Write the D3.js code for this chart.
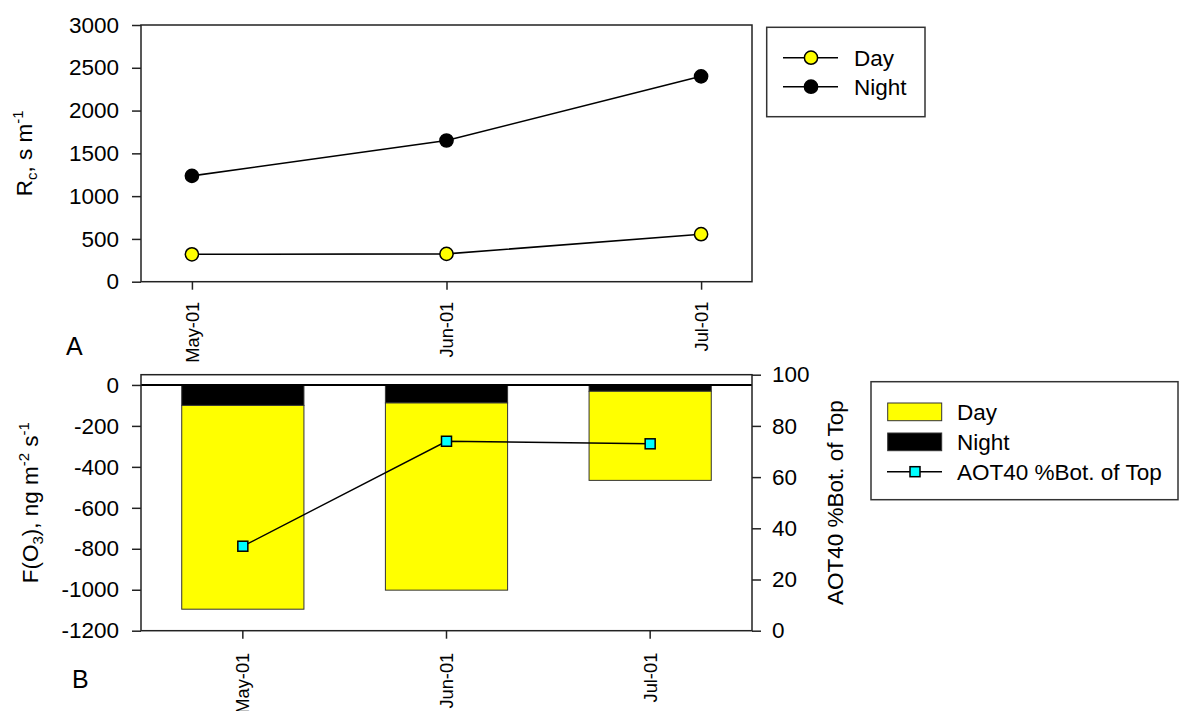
<!DOCTYPE html>
<html><head><meta charset="utf-8">
<script src="https://cdn.jsdelivr.net/npm/d3@7"></script>
<style>body{margin:0;background:#fff} text{font-family:"Liberation Sans",Arial,sans-serif}</style>
</head><body><svg id="c" width="1188" height="711"></svg>
<script>
// ---- data ----
const months = ["May-01", "Jun-01", "Jul-01"];
const rcDay = [320, 325, 555];
const rcNight = [1237, 1650, 2400];
const rcTicks = [0, 500, 1000, 1500, 2000, 2500, 3000];
const fluxNight = [-100, -88, -31];
const fluxDay = [-995, -914, -435];
const aot40 = [33, 74, 73];
const fluxTicks = [0, -200, -400, -600, -800, -1000, -1200];
const aotTicks = [0, 20, 40, 60, 80, 100];

const svg = d3.select("#c");
const L = 141, R = 752;
const T1 = 25, B1 = 281.7, T2 = 374.7, B2 = 630.7;
const FS = 22.5, XFS = 18.3;
const AX = "#222";
const fmt = d => String(d);

function styleAxis(g, fs) {
  g.selectAll("path.domain").remove();
  g.selectAll("line").attr("stroke", AX).attr("stroke-width", 1.5);
  g.selectAll("text").attr("font-size", fs || FS).attr("fill", "#000")
    .attr("font-family", '"Liberation Sans",Arial,sans-serif');
}
function rotLabels(g, off) {
  g.selectAll("text").attr("transform", "rotate(-90)")
    .attr("x", -off).attr("y", 0).attr("dy", "0.35em").attr("text-anchor", "end");
}

// ---- Top chart ----
const x1 = d3.scalePoint().domain(months).range([L, R]).padding(0.2);
const y1 = d3.scaleLinear().domain([0, 3000]).range([B1, T1]);

const gy1 = svg.append("g").attr("transform", `translate(${L},0)`)
  .call(d3.axisLeft(y1).tickValues(rcTicks).tickFormat(fmt).tickSize(9).tickPadding(13));
styleAxis(gy1);
const gx1 = svg.append("g").attr("transform", `translate(0,${B1})`)
  .call(d3.axisBottom(x1).tickSize(8));
styleAxis(gx1, XFS); rotLabels(gx1, 20);

const line1 = d3.line().x((d, i) => x1(months[i])).y(d => y1(d));
[[rcNight, "#000"], [rcDay, "#ffff00"]].forEach(([arr, col]) => {
  svg.append("path").attr("d", line1(arr)).attr("fill", "none")
    .attr("stroke", "#000").attr("stroke-width", 1.6);
  svg.selectAll(null).data(arr).enter().append("circle")
    .attr("cx", (d, i) => x1(months[i])).attr("cy", d => y1(d)).attr("r", 6.6)
    .attr("fill", col).attr("stroke", "#000").attr("stroke-width", 1.5);
});
svg.append("rect").attr("x", L).attr("y", T1).attr("width", R - L).attr("height", B1 - T1)
  .attr("fill", "none").attr("stroke", AX).attr("stroke-width", 1.5);

// top title
const t1 = svg.append("text").attr("transform", `translate(32,${(T1 + B1) / 2}) rotate(-90)`)
  .attr("text-anchor", "middle").attr("font-size", FS);
t1.append("tspan").text("R");
t1.append("tspan").text("c").attr("font-size", 15).attr("dy", 5);
t1.append("tspan").text(", s m").attr("dy", -5);
t1.append("tspan").text("-1").attr("font-size", 15).attr("dy", -9);

// top legend
svg.append("rect").attr("x", 766.7).attr("y", 27.3).attr("width", 158.3).attr("height", 89.4)
  .attr("fill", "#fff").attr("stroke", "#333").attr("stroke-width", 1.5);
[["Day", "#ffff00", 57.7], ["Night", "#000", 86.7]].forEach(([lab, col, yy]) => {
  svg.append("line").attr("x1", 783).attr("x2", 838).attr("y1", yy).attr("y2", yy)
    .attr("stroke", "#000").attr("stroke-width", 1.5);
  svg.append("circle").attr("cx", 811).attr("cy", yy).attr("r", 6.6)
    .attr("fill", col).attr("stroke", "#000").attr("stroke-width", 1.5);
  svg.append("text").attr("x", 854).attr("y", yy + 8).attr("font-size", FS).text(lab);
});

svg.append("text").attr("x", 66).attr("y", 355).attr("font-size", 25).text("A");

// ---- Bottom chart ----
const x2 = d3.scaleBand().domain(months).range([L, R]).paddingInner(0.4).paddingOuter(0.2);
const y2 = d3.scaleLinear().domain([-1200, 50]).range([B2, T2]);
const y3 = d3.scaleLinear().domain([0, 100]).range([B2, T2]);

months.forEach((m, i) => {
  svg.append("rect").attr("x", x2(m)).attr("width", x2.bandwidth())
    .attr("y", y2(0)).attr("height", y2(fluxNight[i]) - y2(0))
    .attr("fill", "#000").attr("stroke", "#333").attr("stroke-width", 1);
  svg.append("rect").attr("x", x2(m)).attr("width", x2.bandwidth())
    .attr("y", y2(fluxNight[i])).attr("height", y2(fluxNight[i] + fluxDay[i]) - y2(fluxNight[i]))
    .attr("fill", "#ffff00").attr("stroke", "#333").attr("stroke-width", 1);
});
svg.append("line").attr("x1", L).attr("x2", R).attr("y1", y2(0)).attr("y2", y2(0))
  .attr("stroke", "#000").attr("stroke-width", 2);

const line3 = d3.line().x((d, i) => x2(months[i]) + x2.bandwidth() / 2).y(d => y3(d));
svg.append("path").attr("d", line3(aot40)).attr("fill", "none")
  .attr("stroke", "#000").attr("stroke-width", 1.4);
svg.selectAll(null).data(aot40).enter().append("rect")
  .attr("x", (d, i) => x2(months[i]) + x2.bandwidth() / 2 - 5).attr("y", d => y3(d) - 5)
  .attr("width", 10).attr("height", 10)
  .attr("fill", "#00ffff").attr("stroke", "#000").attr("stroke-width", 1.5);

const gy2 = svg.append("g").attr("transform", `translate(${L},0)`)
  .call(d3.axisLeft(y2).tickValues(fluxTicks).tickFormat(fmt).tickSize(9).tickPadding(13));
styleAxis(gy2);
const gy3 = svg.append("g").attr("transform", `translate(${R},0)`)
  .call(d3.axisRight(y3).tickValues(aotTicks).tickFormat(fmt).tickSize(9).tickPadding(11));
styleAxis(gy3);
const gx2 = svg.append("g").attr("transform", `translate(0,${B2})`)
  .call(d3.axisBottom(x2).tickSize(8));
styleAxis(gx2, XFS); rotLabels(gx2, 22);

svg.append("rect").attr("x", L).attr("y", T2).attr("width", R - L).attr("height", B2 - T2)
  .attr("fill", "none").attr("stroke", AX).attr("stroke-width", 1.5);

// bottom titles
const t2 = svg.append("text").attr("transform", `translate(38,${(T2 + B2) / 2}) rotate(-90)`)
  .attr("text-anchor", "middle").attr("font-size", FS);
t2.append("tspan").text("F(O");
t2.append("tspan").text("3").attr("font-size", 15).attr("dy", 5);
t2.append("tspan").text("), ng m").attr("dy", -5);
t2.append("tspan").text("-2").attr("font-size", 15).attr("dy", -9);
t2.append("tspan").text(" s").attr("dy", 9);
t2.append("tspan").text("-1").attr("font-size", 15).attr("dy", -9);

svg.append("text").attr("transform", `translate(843,${(T2 + B2) / 2}) rotate(-90)`)
  .attr("text-anchor", "middle").attr("font-size", FS).text("AOT40 %Bot. of Top");

// bottom legend
svg.append("rect").attr("x", 871).attr("y", 381.7).attr("width", 307).attr("height", 118)
  .attr("fill", "#fff").attr("stroke", "#333").attr("stroke-width", 1.5);
svg.append("rect").attr("x", 887.7).attr("y", 403).attr("width", 54).attr("height", 17.7)
  .attr("fill", "#ffff00").attr("stroke", "#333").attr("stroke-width", 1);
svg.append("rect").attr("x", 887.7).attr("y", 433).attr("width", 54).attr("height", 17.7)
  .attr("fill", "#000").attr("stroke", "#333").attr("stroke-width", 1);
svg.append("line").attr("x1", 887).attr("x2", 942).attr("y1", 471.7).attr("y2", 471.7)
  .attr("stroke", "#000").attr("stroke-width", 1.4);
svg.append("rect").attr("x", 910).attr("y", 466.7).attr("width", 10).attr("height", 10)
  .attr("fill", "#00ffff").attr("stroke", "#000").attr("stroke-width", 1.5);
[["Day", 420], ["Night", 450], ["AOT40 %Bot. of Top", 480]].forEach(([lab, yy]) => {
  svg.append("text").attr("x", 957).attr("y", yy).attr("font-size", FS).text(lab);
});

svg.append("text").attr("x", 72).attr("y", 688).attr("font-size", 25).text("B");
</script></body></html>
